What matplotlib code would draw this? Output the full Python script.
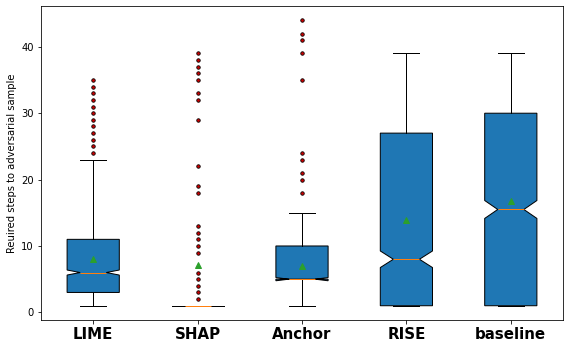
import matplotlib
matplotlib.use("Agg")
import matplotlib.pyplot as plt

labels = ["LIME", "SHAP", "Anchor", "RISE", "baseline"]
q1 = [3, 1, 5, 1, 1]
med = [6, 1, 5, 8, 15.5]
q3 = [11, 1, 10, 27, 30]
whislo = [1, 1, 1, 1, 1]
whishi = [23, 1, 15, 39, 39]
means = [8.05, 7.1, 7.05, 13.9, 16.8]
cilo = [5.62, 1, 4.76, 6.75, 14.15]
cihi = [6.38, 1, 5.24, 9.25, 16.85]
fliers = [
    [24, 25, 26, 27, 28, 29, 30, 31, 32, 33, 34, 35],
    [2, 3, 4, 5, 6, 9, 10, 11, 12, 13, 18, 19, 22, 29, 32, 33, 35, 36, 37, 38, 39],
    [18, 20, 21, 23, 24, 35, 39, 41, 42, 44],
    [],
    [],
]

stats = []
for i, lab in enumerate(labels):
    stats.append(dict(label=lab, q1=q1[i], med=med[i], q3=q3[i],
                      whislo=whislo[i], whishi=whishi[i], mean=means[i],
                      cilo=cilo[i], cihi=cihi[i], fliers=fliers[i]))

fig = plt.figure(figsize=(564/72, 345/72), dpi=72)
ax = fig.add_axes([41/564, 1-320/345, 522/564, 314/345])
ax.bxp(stats, shownotches=True, showmeans=True, patch_artist=True,
       boxprops=dict(facecolor="#1f77b4", edgecolor="black"),
       medianprops=dict(color="#ff7f0e"),
       flierprops=dict(marker="o", markerfacecolor="#cc0000",
                       markeredgecolor="black", markersize=3.5, markeredgewidth=0.8))
ax.set_ylabel("Reuired steps to adversarial sample", fontsize=10)
ax.tick_params(axis="y", labelsize=10)
for t in ax.get_xticklabels():
    t.set_fontsize(15)
    t.set_fontweight("bold")
fig.savefig("out.png", dpi=72)
